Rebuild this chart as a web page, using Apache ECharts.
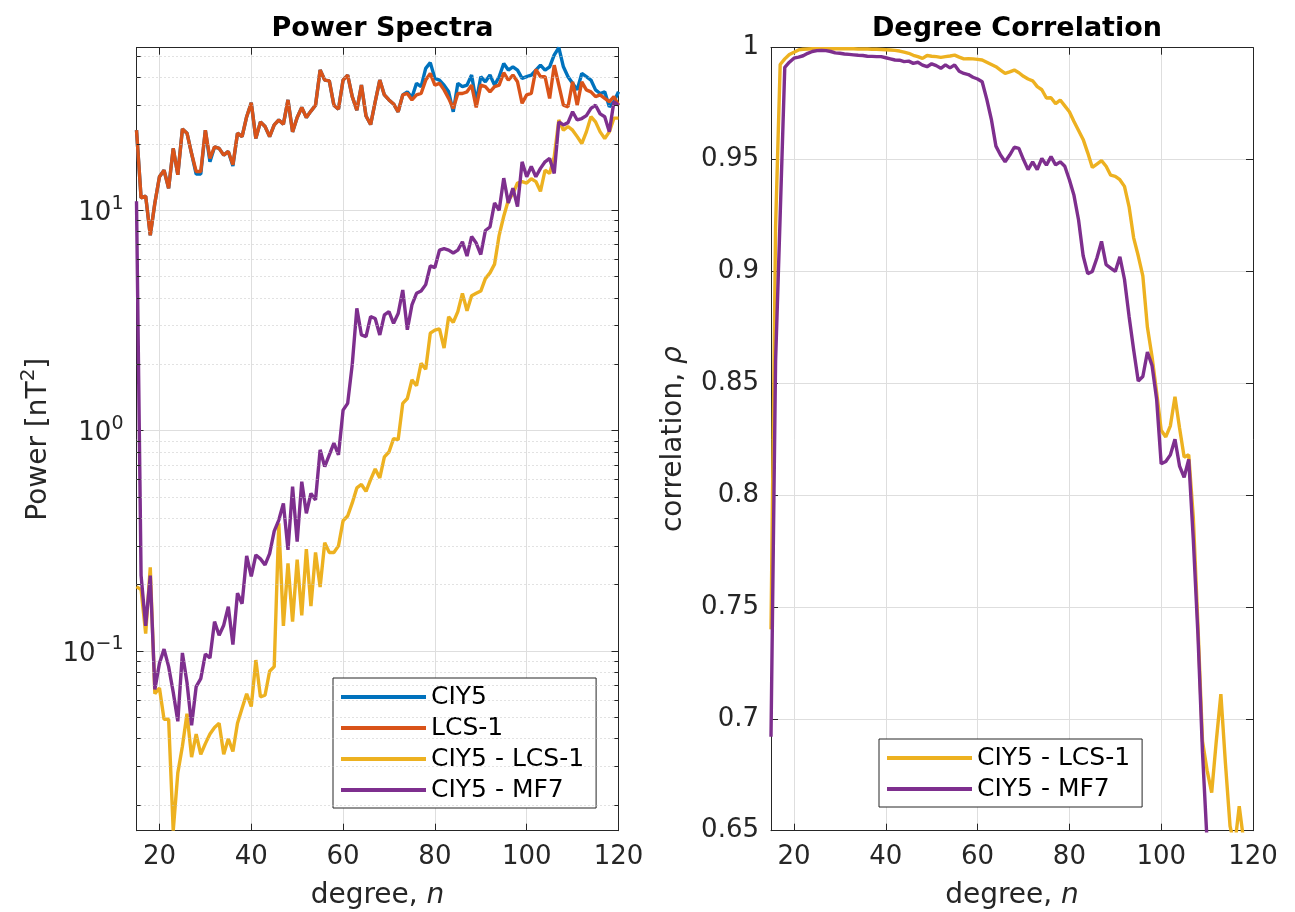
<!DOCTYPE html>
<html lang="en">
<head>
<meta charset="UTF-8">
<title>Power Spectra / Degree Correlation</title>
<script src="https://cdn.jsdelivr.net/npm/echarts@6/dist/echarts.min.js"></script>
<style>
  html, body { margin: 0; padding: 0; background: #fff; }
  #chart { width: 1295px; height: 912px; }
</style>
</head>
<body>
<div id="chart"></div>
<script>
// spherical harmonic degree n = 15 ... 120
const degrees = [];
for (let n = 15; n <= 120; n++) degrees.push(n);

// power spectra [nT^2], one value per degree
const ciy5 = [
  23.1, 11.4, 11.6, 7.7, 10.8, 14.2, 15.2, 12.6, 19.1, 14.5,
  23.4, 22.4, 18.1, 14.6, 14.6, 23.1, 16.6, 19.4, 19.1, 17.8,
  18.5, 15.9, 22.4, 21.6, 26.6, 30.8, 21.2, 25.2, 24.0, 21.6,
  24.4, 25.7, 24.6, 31.7, 22.7, 26.4, 29.3, 26.4, 28.2, 30.0,
  43.3, 39.0, 38.7, 30.0, 28.8, 39.0, 41.1, 32.8, 28.5, 37.0,
  26.8, 24.5, 31.1, 39.0, 33.4, 31.7, 30.4, 28.0, 33.4, 34.5,
  32.5, 37.7, 36.4, 44.1, 46.8, 39.7, 39.0, 37.0, 34.5, 28.0,
  37.7, 36.4, 37.0, 41.1, 31.1, 40.4, 38.3, 41.1, 37.0, 40.4,
  46.4, 43.3, 44.8, 43.3, 39.7, 40.4, 41.1, 43.3, 45.6, 43.3,
  44.8, 50.7, 54.7, 44.8, 40.4, 37.7, 35.2, 41.8, 40.4, 39.0,
  35.2, 33.9, 34.5, 29.5, 31.1, 34.5
];
const lcs1 = [
  23.1, 11.4, 11.6, 7.7, 10.8, 14.2, 15.2, 12.6, 19.1, 14.5,
  23.4, 22.4, 18.1, 15.0, 15.0, 23.1, 17.2, 19.4, 19.1, 17.8,
  18.5, 16.1, 22.4, 21.6, 26.6, 30.8, 21.2, 25.2, 24.0, 21.6,
  24.4, 25.7, 24.6, 31.7, 22.7, 26.4, 29.3, 26.4, 28.2, 30.0,
  43.3, 39.0, 38.7, 30.0, 28.8, 39.0, 41.1, 32.8, 28.5, 37.0,
  26.8, 24.5, 31.1, 39.0, 33.4, 31.7, 30.4, 28.0, 33.4, 33.9,
  31.7, 33.4, 33.9, 39.0, 41.8, 37.0, 37.7, 35.2, 32.2, 29.0,
  33.9, 33.9, 34.5, 37.0, 29.3, 37.0, 36.4, 34.5, 36.4, 37.0,
  42.1, 39.0, 41.1, 38.3, 30.6, 33.4, 33.9, 43.6, 40.4, 40.4,
  32.2, 45.6, 37.0, 30.0, 29.5, 38.3, 30.0, 38.3, 35.2, 34.5,
  32.8, 33.4, 32.2, 31.1, 32.8, 30.0
];
const ciy5MinusLcs1 = [
  0.196, 0.19, 0.12, 0.24, 0.064, 0.068, 0.049, 0.049, 0.0153, 0.028,
  0.037, 0.052, 0.033, 0.042, 0.034, 0.038, 0.042, 0.045, 0.047, 0.034,
  0.040, 0.035, 0.047, 0.055, 0.064, 0.056, 0.091, 0.062, 0.063, 0.081,
  0.085, 0.38, 0.13, 0.25, 0.136, 0.26, 0.145, 0.29, 0.16, 0.28,
  0.195, 0.31, 0.28, 0.28, 0.30, 0.39, 0.41, 0.47, 0.55, 0.57,
  0.53, 0.60, 0.67, 0.61, 0.76, 0.80, 0.92, 0.91, 1.33, 1.40,
  1.70, 1.60, 2.02, 1.90, 2.77, 2.86, 2.90, 2.37, 3.29, 3.10,
  3.47, 4.20, 3.50, 4.10, 4.20, 4.30, 4.90, 5.20, 5.70, 7.70,
  9.40, 11.1, 11.9, 13.3, 13.5, 13.3, 13.9, 13.5, 12.2, 15.2,
  14.7, 17.5, 25.7, 23.1, 24.0, 23.1, 21.6, 20.1, 22.7, 26.6,
  25.2, 22.7, 21.2, 22.7, 26.2, 26.2
];
const ciy5MinusMf7 = [
  11.0, 0.22, 0.13, 0.22, 0.067, 0.088, 0.102, 0.085, 0.065, 0.048,
  0.098, 0.072, 0.046, 0.069, 0.075, 0.097, 0.093, 0.136, 0.118, 0.131,
  0.159, 0.107, 0.183, 0.164, 0.27, 0.218, 0.273, 0.262, 0.246, 0.277,
  0.35, 0.393, 0.468, 0.288, 0.557, 0.314, 0.587, 0.422, 0.519, 0.485,
  0.819, 0.687, 0.776, 0.877, 0.776, 1.24, 1.33, 2.0, 3.59, 2.72,
  2.67, 3.29, 3.23, 2.72, 3.35, 3.47, 3.07, 3.40, 4.35, 2.87,
  3.72, 4.2, 4.3, 4.6, 5.6, 5.5, 6.6, 6.7, 6.6, 6.4,
  6.6, 7.2, 6.2, 7.6, 7.1, 6.3, 8.1, 8.4, 10.8, 10.0,
  14.0, 10.8, 12.6, 10.4, 16.6, 14.2, 15.8, 14.2, 15.5, 16.6,
  17.2, 14.7, 25.2, 24.4, 25.0, 28.0, 25.7, 26.1, 26.9, 29.0,
  30.0, 27.4, 26.6, 22.7, 31.1, 30.0
];

// degree correlation, one value per degree (null = below the plotted range, not readable)
const corrLcs1 = [
  0.74, 0.92, 0.9925, 0.995, 0.997, 0.998, 0.999, 0.9993, 0.9994, 0.9995,
  0.9995, 0.9995, 0.9995, 0.9995, 0.9995, 0.9995, 0.9995, 0.9995, 0.9995, 0.9994,
  0.9994, 0.9994, 0.9993, 0.9993, 0.9992, 0.9991, 0.999, 0.9988, 0.9985, 0.998,
  0.9975, 0.9966, 0.996, 0.9952, 0.9965, 0.9962, 0.996, 0.9957, 0.996, 0.9963,
  0.9967, 0.9958, 0.995, 0.9951, 0.995, 0.9948, 0.9945, 0.9935, 0.9925, 0.9915,
  0.99, 0.9885, 0.9892, 0.99, 0.9888, 0.9872, 0.986, 0.9852, 0.9826, 0.9812,
  0.9775, 0.9776, 0.975, 0.9766, 0.974, 0.9714, 0.967, 0.963, 0.959, 0.953,
  0.9465, 0.948, 0.9495, 0.947, 0.943, 0.9425, 0.941, 0.938, 0.929, 0.915,
  0.907, 0.898, 0.875, 0.862, 0.846, 0.829, 0.826, 0.831, 0.844, 0.830,
  0.817, 0.818, 0.79, 0.742, 0.69, 0.677, 0.667, 0.69, 0.711, 0.68,
  0.652, 0.643, 0.661, 0.645, 0.635, 0.625
];
const corrMf7 = [
  0.692, 0.86, 0.925, 0.9912, 0.9935, 0.9953, 0.9958, 0.9964, 0.9975, 0.9983,
  0.9987, 0.9988, 0.9987, 0.9983, 0.9977, 0.9975, 0.9972, 0.997, 0.9968, 0.9966,
  0.9965, 0.9962, 0.9961, 0.996, 0.996, 0.9955, 0.995, 0.9945, 0.9944, 0.9938,
  0.994, 0.993, 0.9935, 0.9922, 0.9915, 0.9928, 0.992, 0.9908, 0.9923, 0.991,
  0.9923, 0.9895, 0.9885, 0.988, 0.9868, 0.986, 0.9848, 0.977, 0.968, 0.956,
  0.952, 0.949, 0.952, 0.9555, 0.955, 0.95, 0.9455, 0.949, 0.9455, 0.9505,
  0.9475, 0.9513, 0.9476, 0.949, 0.947, 0.941, 0.934, 0.923, 0.907, 0.899,
  0.9, 0.906, 0.9134, 0.903, 0.9015, 0.9, 0.9065, 0.8965, 0.88, 0.865,
  0.851, 0.853, 0.864, 0.858, 0.843, 0.814, 0.815, 0.818, 0.825, 0.813,
  0.808, 0.816, 0.78, 0.738, 0.685, 0.645, 0.61, 0.58, null, null,
  null, null, null, null, null, null
];

// minor (dotted) grid values of the log axis
const logMinor = [0.02, 0.03, 0.04, 0.05, 0.06, 0.07, 0.08, 0.09,
                  0.2, 0.3, 0.4, 0.5, 0.6, 0.7, 0.8, 0.9,
                  2, 3, 4, 5, 6, 7, 8, 9,
                  20, 30, 40, 50];

const FONT = 'DejaVu Sans';
const AX = '#262626';
const GRID = '#dedede';
const colors = { blue: '#0072BD', orange: '#D95319', yellow: '#EDB120', purple: '#7E2F8E' };

function pairs(arr) {
  return degrees.map((n, i) => [n, arr[i]]);
}

function logLabel(v) {
  const l = Math.log10(v);
  const k = Math.round(l);
  if (Math.abs(l - k) > 1e-6) return '';
  return '{b|10}{sup|' + (k < 0 ? '\u2212' + (-k) : k) + '}';
}

function xAxisBottom(grid) {
  return {
    gridIndex: grid, type: 'value', min: 15, max: 120, position: 'bottom',
    axisLine: { show: true, onZero: false, lineStyle: { color: AX, width: 1 } },
    axisTick: { show: true, inside: true, length: 7, lineStyle: { color: AX } },
    axisLabel: { fontSize: 26, color: AX, fontFamily: FONT, margin: 14, showMinLabel: false },
    splitLine: { show: true, lineStyle: { color: GRID, width: 1 } },
    name: 'degree, {i|n}', nameLocation: 'middle', nameGap: 51, nameMoveOverlap: false,
    nameTextStyle: {
      fontSize: 28, color: AX, fontFamily: FONT,
      rich: { i: { fontSize: 28, fontStyle: 'italic', color: AX, fontFamily: FONT } }
    }
  };
}
function xAxisTop(grid) {
  return {
    gridIndex: grid, type: 'value', min: 15, max: 120, position: 'top',
    axisLine: { show: true, onZero: false, lineStyle: { color: AX, width: 1 } },
    axisTick: { show: true, inside: true, length: 7, lineStyle: { color: AX } },
    axisLabel: { show: false }, splitLine: { show: false }
  };
}

const chart = echarts.init(document.getElementById('chart'), null, { renderer: 'canvas' });

const lineSeries = (name, arr, color, xi, yi) => ({
  name, type: 'line', data: pairs(arr), xAxisIndex: xi, yAxisIndex: yi,
  symbol: 'none', showSymbol: false, connectNulls: false, clip: true,
  lineStyle: { width: 3.4, color }, itemStyle: { color },
  emphasis: { disabled: true }, z: 3
});

const legendBase = {
  orient: 'vertical', padding: [6, 12, 5, 8], itemGap: 5, itemWidth: 85, itemHeight: 4,
  icon: 'rect',
  textStyle: { fontSize: 25, color: '#000', fontFamily: FONT, lineHeight: 26 },
  backgroundColor: '#fff', borderColor: AX, borderWidth: 1, borderRadius: 0,
  selectedMode: false
};

chart.setOption({
  animation: false,
  backgroundColor: '#fff',
  textStyle: { fontFamily: FONT },
  title: [
    { text: 'Power Spectra', left: 377.5, top: 10, textAlign: 'center',
      textStyle: { fontSize: 27, fontWeight: 'bold', color: '#000', fontFamily: FONT } },
    { text: 'Degree Correlation', left: 1012, top: 10, textAlign: 'center',
      textStyle: { fontSize: 27, fontWeight: 'bold', color: '#000', fontFamily: FONT } }
  ],
  grid: [
    { left: 136.5, top: 47.7, width: 482, height: 783, containLabel: false, outerBoundsMode: 'none' },
    { left: 771, top: 47.7, width: 482, height: 783, containLabel: false, outerBoundsMode: 'none' }
  ],
  legend: [
    Object.assign({}, legendBase, {
      left: 333, top: 678,
      data: ['CIY5', 'LCS-1', 'CIY5 - LCS-1', 'CIY5 - MF7']
    }),
    Object.assign({}, legendBase, {
      left: 879, top: 739,
      data: ['CIY5 - LCS-1', 'CIY5 - MF7']
    })
  ],
  xAxis: [xAxisBottom(0), xAxisTop(0), xAxisBottom(1), xAxisTop(1)],
  yAxis: [
    {
      gridIndex: 0, type: 'log', logBase: 10, min: 0.0153, max: 54.7, position: 'left',
      axisLine: { show: true, lineStyle: { color: AX, width: 1 } },
      axisTick: { show: true, inside: true, length: 7, lineStyle: { color: AX } },
      axisLabel: {
        fontSize: 26, color: AX, fontFamily: FONT, margin: 13, formatter: logLabel,
        rich: {
          b: { fontSize: 26, color: AX, fontFamily: FONT, padding: [6, 0, 0, 0], verticalAlign: 'bottom' },
          sup: { fontSize: 19, color: AX, fontFamily: FONT, verticalAlign: 'top' }
        }
      },
      splitLine: { show: true, lineStyle: { color: GRID, width: 1 } },
      name: '{b|Power [nT}{sup|2}{b|]}', nameLocation: 'middle', nameRotate: 90, nameGap: 84,
      nameMoveOverlap: false,
      nameTextStyle: {
        fontSize: 28, color: AX, fontFamily: FONT,
        rich: {
          b: { fontSize: 28, color: AX, fontFamily: FONT, padding: [6, 0, 0, 0], verticalAlign: 'bottom' },
          sup: { fontSize: 20, color: AX, fontFamily: FONT, verticalAlign: 'top' }
        }
      }
    },
    {
      gridIndex: 0, type: 'log', logBase: 10, min: 0.0153, max: 54.7, position: 'right',
      axisLine: { show: true, lineStyle: { color: AX, width: 1 } },
      axisTick: { show: true, inside: true, length: 7, lineStyle: { color: AX } },
      axisLabel: { show: false }, splitLine: { show: false }
    },
    {
      gridIndex: 1, type: 'value', min: 0.65, max: 1, interval: 0.05, position: 'left',
      axisLine: { show: true, lineStyle: { color: AX, width: 1 } },
      axisTick: { show: true, inside: true, length: 7, lineStyle: { color: AX } },
      axisLabel: { fontSize: 26, color: AX, fontFamily: FONT, margin: 12 },
      splitLine: { show: true, lineStyle: { color: GRID, width: 1 } },
      name: 'correlation, {i|\u03c1}', nameLocation: 'middle', nameRotate: 90, nameGap: 83,
      nameMoveOverlap: false,
      nameTextStyle: {
        fontSize: 28, color: AX, fontFamily: FONT,
        rich: { i: { fontSize: 28, fontStyle: 'italic', color: AX, fontFamily: FONT } }
      }
    },
    {
      gridIndex: 1, type: 'value', min: 0.65, max: 1, interval: 0.05, position: 'right',
      axisLine: { show: true, lineStyle: { color: AX, width: 1 } },
      axisTick: { show: true, inside: true, length: 7, lineStyle: { color: AX } },
      axisLabel: { show: false }, splitLine: { show: false }
    }
  ],
  series: [
    // dotted minor grid of the log axis
    {
      name: 'minorGrid', type: 'line', xAxisIndex: 0, yAxisIndex: 0, data: [], silent: true, z: 1,
      markLine: {
        silent: true, symbol: ['none', 'none'], label: { show: false }, animation: false,
        lineStyle: { type: [1, 3], color: '#c4c4c4', width: 1 },
        emphasis: { disabled: true },
        data: logMinor.map(v => ({ yAxis: v }))
      }
    },
    // minor ticks on both log-axis edges
    {
      name: 'minorTicks', type: 'line', xAxisIndex: 0, yAxisIndex: 0, data: [], silent: true, z: 4,
      markLine: {
        silent: true, symbol: ['none', 'none'], label: { show: false }, animation: false,
        lineStyle: { type: 'solid', color: AX, width: 1 },
        emphasis: { disabled: true },
        data: logMinor.flatMap(v => [
          [{ coord: [15, v] }, { coord: [15.9, v] }],
          [{ coord: [119.1, v] }, { coord: [120, v] }]
        ])
      }
    },
    lineSeries('CIY5', ciy5, colors.blue, 0, 0),
    lineSeries('LCS-1', lcs1, colors.orange, 0, 0),
    lineSeries('CIY5 - LCS-1', ciy5MinusLcs1, colors.yellow, 0, 0),
    lineSeries('CIY5 - MF7', ciy5MinusMf7, colors.purple, 0, 0),
    lineSeries('CIY5 - LCS-1', corrLcs1, colors.yellow, 2, 2),
    lineSeries('CIY5 - MF7', corrMf7, colors.purple, 2, 2)
  ]
});
</script>
</body>
</html>
